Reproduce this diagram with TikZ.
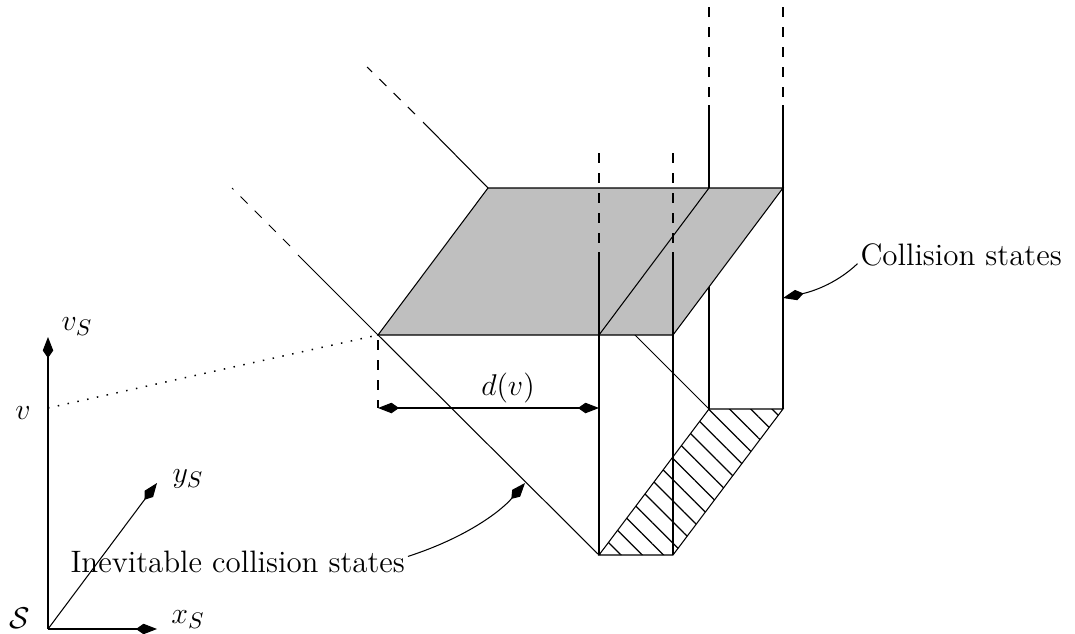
\documentclass[tikz,border=0pt]{standalone}
\usetikzlibrary{arrows.meta,patterns.meta}
\begin{document}
\begin{tikzpicture}[x=0.4pt,y=-0.4pt, line width=0.42pt,
  kt/.tip={Kite[length=8.4pt,width=4.2pt,inset=3pt]},
  tip/.style={-kt},
  both/.style={kt-kt},
  dsh/.style={dash pattern=on 4pt off 4pt},
  dots/.style={dash pattern=on 0.6pt off 3.4pt, line width=0.6pt},
  lbl/.style={font=\fontsize{12.4}{15}\selectfont, inner sep=0pt}]
\useasboundingbox (0,0) rectangle (1075,634);
% key points
\coordinate (O) at (48,629);
\coordinate (Xt) at (157,629);
\coordinate (Yt) at (157,483);
\coordinate (Vt) at (48,337);
\coordinate (V) at (48,408);
\coordinate (A) at (378,335);
\coordinate (B) at (599,335);
\coordinate (C) at (673,335);
\coordinate (D) at (783,188);
\coordinate (E) at (709,188);
\coordinate (F) at (488,188);
\coordinate (G) at (599,555);
\coordinate (H) at (673,555);
\coordinate (I) at (709,409);
\coordinate (J) at (783,409);
\coordinate (Ad) at (378,408);
\coordinate (Bd) at (599,408);
% hidden lines behind the grey face
\draw (F) -- (I);
\draw (709,105) -- (I);
\draw[dsh] (709,7) -- (709,97);
% grey face
\draw[fill=black!25] (A) -- (C) -- (D) -- (F) -- cycle;
\draw (B) -- (E);
% verticals
\draw[dsh] (599,153) -- (599,245);
\draw (599,252) -- (G);
\draw[dsh] (673,153) -- (673,245);
\draw (673,252) -- (H);
\draw[dsh] (783,7) -- (783,97);
\draw (783,105) -- (J);
% hatched face
\draw[pattern={Lines[angle=-45,distance=6pt,line width=0.5pt]}] (G) -- (H) -- (J) -- (I) -- cycle;
% diagonals
\draw (A) -- (G);
\draw (A) -- (298,255);
\draw[dsh] (290,246) -- (232,188);
\draw (F) -- (423,122);
\draw[dsh] (415,114) -- (367,67);
% d(v)
\draw[dsh] (378,340) -- (Ad);
\draw[both] (Ad) -- (Bd);
\node[lbl] (dv) at (508,388) {$d(v)$};
% axes
\draw[tip] (O) -- (Xt);
\draw[tip] (O) -- (Yt);
\draw[tip] (O) -- (Vt);
\draw[dots] (V) -- (A);
\node[lbl] (S) at (20,618) {$\mathcal{S}$};
\node[lbl] (xs) at (188,620) {$x_S$};
\node[lbl] (ys) at (188,479) {$y_S$};
\node[lbl] (vs) at (77,327) {$v_S$};
\node[lbl] (v) at (23,413) {$v$};
% labels with curved arrows
\node[lbl, anchor=base west] (cs) at (860,265) {Collision states};
\coordinate (cst) at (783,298);
\draw[tip] ([xshift=-1pt,yshift=1pt]cs.south west) .. controls (835,285) and (810,292) .. (cst);
\node[lbl, anchor=base west] (ics) at (70,572) {Inevitable collision states};
\coordinate (icst) at (525,483);
\draw[tip] ([xshift=1pt,yshift=2pt]ics.east) .. controls (465,538) and (500,512) .. (icst);
\end{tikzpicture}
\end{document}
